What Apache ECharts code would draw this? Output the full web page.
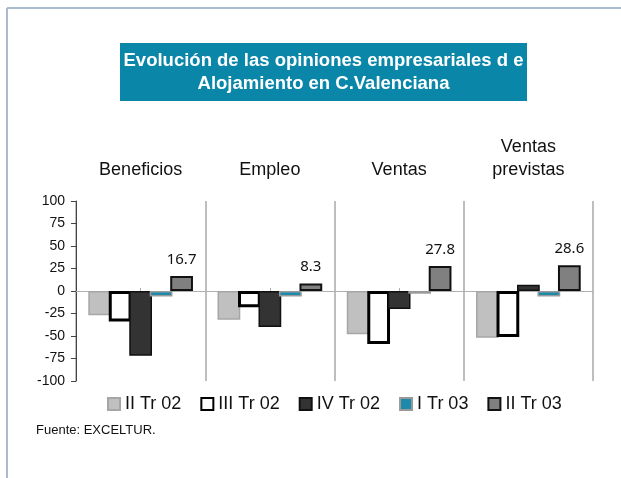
<!DOCTYPE html>
<html>
<head>
<meta charset="utf-8">
<script src="https://cdn.jsdelivr.net/npm/echarts@6/dist/echarts.min.js"></script>
<style>
  html, body { margin: 0; padding: 0; background: #fff; }
  #chart { width: 621px; height: 478px; }
</style>
</head>
<body>
<div id="chart"></div>
<script>
// Categories and quarterly balances of business opinions (%)
const categories = ['Beneficios', 'Empleo', 'Ventas', 'Ventas\nprevistas'];
const seriesNames = ['II Tr 02', 'III Tr 02', 'IV Tr 02', 'I Tr 03', 'II Tr 03'];
const iiTr02  = [-27, -32, -48, -52];
const iiiTr02 = [-34, -18, -59, -51];
const ivTr02  = [-72, -40, -20, 7];
const iTr03   = [-6, -6, -3, -6];
const iiTr03b = [16.7, 8.3, 27.8, 28.6];
const yTicks  = { min: -100, max: 100, interval: 25 };

const font = 'Liberation Sans, Arial, Helvetica, sans-serif';

const styles = [
  { color: '#c0c0c0', borderColor: '#a6a6a6', borderWidth: 1.5 },
  { color: '#ffffff', borderColor: '#000000', borderWidth: 3 },
  { color: '#333333', borderColor: '#111111', borderWidth: 1.5 },
  { color: '#1e8aab', borderColor: '#9a9a9a', borderWidth: 1.5 },
  { color: '#808080', borderColor: '#111111', borderWidth: 2 }
];
const values = [iiTr02, iiiTr02, ivTr02, iTr03, iiTr03b];

// Neighbouring bars overlap slightly so their outlines touch
const series = values.map((data, i) => ({
  name: seriesNames[i],
  type: 'bar',
  xAxisIndex: 0,
  data: data,
  barGap: '-10%',
  barCategoryGap: '19%',
  itemStyle: styles[i],
  label: i === 4 ? {
    show: true,
    position: 'top',
    distance: 9,
    fontFamily: 'Noto Sans, sans-serif',
    fontSize: 15,
    color: '#111',
    formatter: p => p.value.toFixed(1)
  } : { show: false }
}));

const chart = echarts.init(document.getElementById('chart'), null, { renderer: 'canvas' });
chart.setOption({
  animation: false,
  backgroundColor: '#ffffff',
  grid: { left: 76, right: 28, top: 201, bottom: 97, containLabel: false },
  xAxis: [
    {
      type: 'category',
      data: categories,
      position: 'bottom',
      axisLine: { onZero: true, lineStyle: { color: '#b0b0b0', width: 1 } },
      axisTick: { show: true, alignWithLabel: true, inside: true, length: 3, lineStyle: { color: '#b0b0b0' } },
      axisLabel: { show: false },
      splitLine: { show: true, lineStyle: { color: '#a8a8a8', width: 1.5 } }
    },
    {
      type: 'category',
      data: categories,
      position: 'top',
      axisLine: { show: false, onZero: false },
      axisTick: { show: false },
      axisLabel: { show: true, margin: 19, fontFamily: font, fontSize: 18, color: '#111', lineHeight: 23 },
      splitLine: { show: false }
    }
  ],
  yAxis: {
    type: 'value',
    min: yTicks.min,
    max: yTicks.max,
    interval: yTicks.interval,
    axisLine: { show: true, lineStyle: { color: '#444', width: 1 } },
    axisTick: { show: true, length: 5, lineStyle: { color: '#444' } },
    axisLabel: { margin: 11, fontFamily: font, fontSize: 14, color: '#111' },
    splitLine: { show: false }
  },
  legend: {
    data: seriesNames,
    bottom: 60,
    left: 102,
    icon: 'rect',
    itemWidth: 12,
    itemHeight: 12,
    itemGap: 19,
    textStyle: { fontFamily: font, fontSize: 18, color: '#111' }
  },
  series: series,
  graphic: [
    { type: 'line', shape: { x1: 7, y1: 8, x2: 621, y2: 8 }, style: { stroke: '#a9bccf', lineWidth: 2 } },
    { type: 'line', shape: { x1: 7, y1: 8, x2: 7, y2: 478 }, style: { stroke: '#a9bccf', lineWidth: 2 } },
    { type: 'rect', shape: { x: 120, y: 43, width: 407, height: 58 }, style: { fill: '#0a86a8' } },
    {
      type: 'text', x: 323.5, y: 72,
      style: {
        text: 'Evolución de las opiniones empresariales d e\nAlojamiento en C.Valenciana',
        fill: '#ffffff', font: 'bold 18.5px ' + font, align: 'center', verticalAlign: 'middle', lineHeight: 23
      }
    },
    {
      type: 'text', x: 36, y: 430,
      style: { text: 'Fuente: EXCELTUR.', fill: '#111', font: '13px ' + font, verticalAlign: 'middle' }
    }
  ]
});
</script>
</body>
</html>
